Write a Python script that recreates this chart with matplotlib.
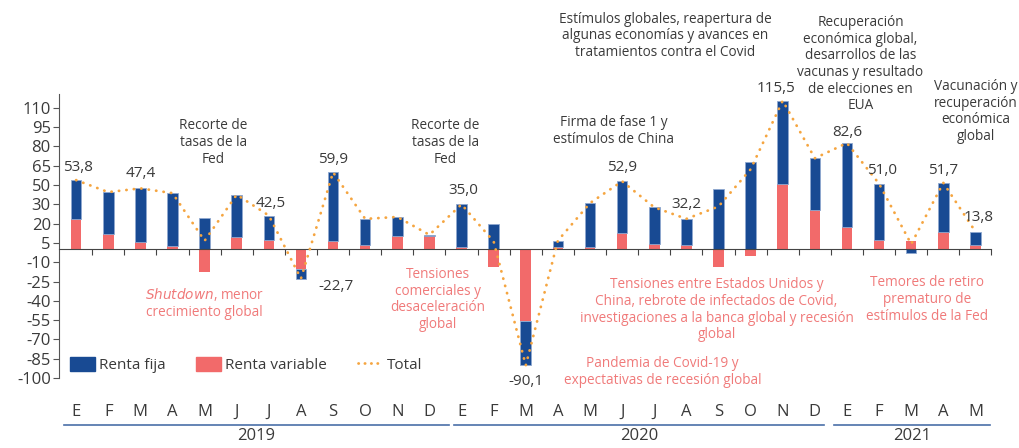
import numpy as np
import matplotlib
matplotlib.use("Agg")
import matplotlib.pyplot as plt
from matplotlib.lines import Line2D
from matplotlib.patches import Patch

plt.rcParams["font.family"] = ["Open Sans", "DejaVu Sans"]

# Data
months = ["E", "F", "M", "A", "M", "J", "J", "A", "S", "O", "N", "D",
          "E", "F", "M", "A", "M", "J", "J", "A", "S", "O", "N", "D",
          "E", "F", "M", "A", "M"]
years = ["2019", "2020", "2021"]
renta_fija = [30.0, 32.5, 42.0, 41.0, 24.4, 32.5, 19.0, -7.7, 53.0, 20.0, 15.0, 0.8,
              32.8, 19.7, -34.6, 5.0, 34.0, 40.1, 28.4, 20.0, 46.9, 67.5, 64.5, 40.0,
              65.5, 44.0, -2.7, 37.9, 10.1]
renta_variable = [23.8, 12.0, 5.4, 2.7, -17.7, 10.0, 7.3, -15.0, 6.9, 3.7, 10.2, 10.5,
                  2.2, -13.6, -55.5, 1.8, 2.0, 12.8, 4.3, 3.7, -13.6, -5.3, 51.0, 30.8,
                  17.1, 7.0, 6.8, 13.8, 3.7]
ytick_vals = [110, 95, 80, 65, 50, 35, 20, 5, -10, -25, -40, -55, -70, -85, -100]
ytick_labels = ["110", "95", "80", "65", "50", "30", "20", "5", "-10", "-25",
                "-40", "-55", "-70", "-85", "-100"]

rf = np.array(renta_fija)
rv = np.array(renta_variable)
total = rf + rv
x = np.arange(len(months))

BLUE = "#184A93"
RED = "#F26A6A"
ORANGE = "#F5A540"
DARK = "#3A3A3A"
RTXT = "#F07A7A"

fig = plt.figure(figsize=(10.19, 4.48), dpi=100)
ax = fig.add_axes([0.058, 0.156, 0.915, 0.635])

# red goes next to zero, blue stacked after it (same sign) or on the other side
rf_bottom = np.where(np.sign(rf) == np.sign(rv), rv, 0)
w = 0.33
ax.bar(x, rv, width=w, color=RED, zorder=2)
ax.bar(x, rf, width=w, bottom=rf_bottom, color=BLUE, edgecolor="#8FA8D0",
       linewidth=0.6, zorder=2)
ax.plot(x, total, color=ORANGE, linestyle=(0, (0.1, 2.6)), linewidth=2.0,
        dash_capstyle="round", zorder=3)

ax.set_xlim(-0.53, 28.5)
ax.set_ylim(-100, 121)
ax.set_yticks(ytick_vals)
ax.set_yticklabels(ytick_labels, fontsize=12, color=DARK)
ax.tick_params(axis="y", direction="out", length=4, color="#555555", pad=2)

for s in ["top", "right"]:
    ax.spines[s].set_visible(False)
ax.spines["left"].set_color("#555555")
ax.spines["bottom"].set_position(("data", 0))
ax.spines["bottom"].set_color("#444444")
ax.set_xticks(np.arange(-0.5, 29, 1)[1:])
ax.set_xticklabels([])
ax.tick_params(axis="x", direction="out", length=4, color="#444444")

# month / year labels below the plot
tr = ax.get_xaxis_transform()
for i, m in enumerate(months):
    ax.text(i, -0.12, m, transform=tr, ha="center", va="center",
            fontsize=12, color=DARK, clip_on=False)
year_spans = [(-0.37, 11.6), (11.75, 23.3), (23.6, 28.45)]
for (a, b), y in zip(year_spans, years):
    ax.plot([a, b], [-0.165, -0.165], transform=tr, color="#4A6FA8",
            linewidth=1.2, clip_on=False)
    ax.text((a + b) / 2, -0.205, y, transform=tr, ha="center", va="center",
            fontsize=12, color=DARK, clip_on=False)

# value labels
vals = [(0.05, 64, "53,8"), (2.0, 59, "47,4"), (6.05, 36, "42,5"),
        (8.0, 69.5, "59,9"), (8.1, -29, "-22,7"), (12.05, 45.5, "35,0"),
        (14.0, -103, "-90,1"), (17.0, 64, "52,9"), (19.0, 34.5, "32,2"),
        (21.8, 125, "115,5"), (24.0, 91, "82,6"), (25.1, 61, "51,0"),
        (27.0, 61, "51,7"), (28.1, 24.5, "13,8")]
for xi, yi, t in vals:
    ax.text(xi, yi, t, ha="center", va="center", fontsize=11, color=DARK,
            clip_on=False)

notes = [
    (4.27, 83, "Recorte de\ntasas de la\nFed"),
    (11.5, 83, "Recorte de\ntasas de la\nFed"),
    (16.73, 92, "Firma de fase 1 y\nestímulos de China"),
    (18.35, 166, "Estímulos globales, reapertura de\nalgunas economías y avances en\ntratamientos contra el Covid"),
    (24.42, 144, "Recuperación\neconómica global,\ndesarrollos de las\nvacunas y resultado\nde elecciones en\nEUA"),
    (28.0, 107, "Vacunación y\nrecuperación\neconómica\nglobal"),
]
for xi, yi, t in notes:
    ax.text(xi, yi, t, ha="center", va="center", fontsize=9.8, color=DARK,
            linespacing=1.15, clip_on=False)

red_notes = [
    (11.27, -39, "Tensiones\ncomerciales y\ndesaceleración\nglobal"),
    (18.25, -95.5, "Pandemia de Covid-19 y\nexpectativas de recesión global"),
    (19.94, -47, "Tensiones entre Estados Unidos y\nChina, rebrote de infectados de Covid,\ninvestigaciones a la banca global y recesión\nglobal"),
    (26.5, -39, "Temores de retiro\nprematuro de\nestímulos de la Fed"),
    (4.0, -41.5, "$\\mathit{Shutdown}$, menor\ncrecimiento global"),
]
for xi, yi, t in red_notes:
    ax.text(xi, yi, t, ha="center", va="center", fontsize=9.8, color=RTXT,
            linespacing=1.15, clip_on=False)

handles = [Patch(color=BLUE, label="Renta fija"),
           Patch(color=RED, label="Renta variable"),
           Line2D([], [], color=ORANGE, linestyle=(0, (0.1, 2.2)), linewidth=2,
                  dash_capstyle="round", label="Total")]
ax.legend(handles=handles, ncol=3, loc="center left", bbox_to_anchor=(-0.003, 0.045),
          frameon=False, fontsize=11, handlelength=1.65, handleheight=0.95,
          handletextpad=0.25, columnspacing=2.0, labelcolor=DARK)

fig.savefig("out.png", dpi=100)
